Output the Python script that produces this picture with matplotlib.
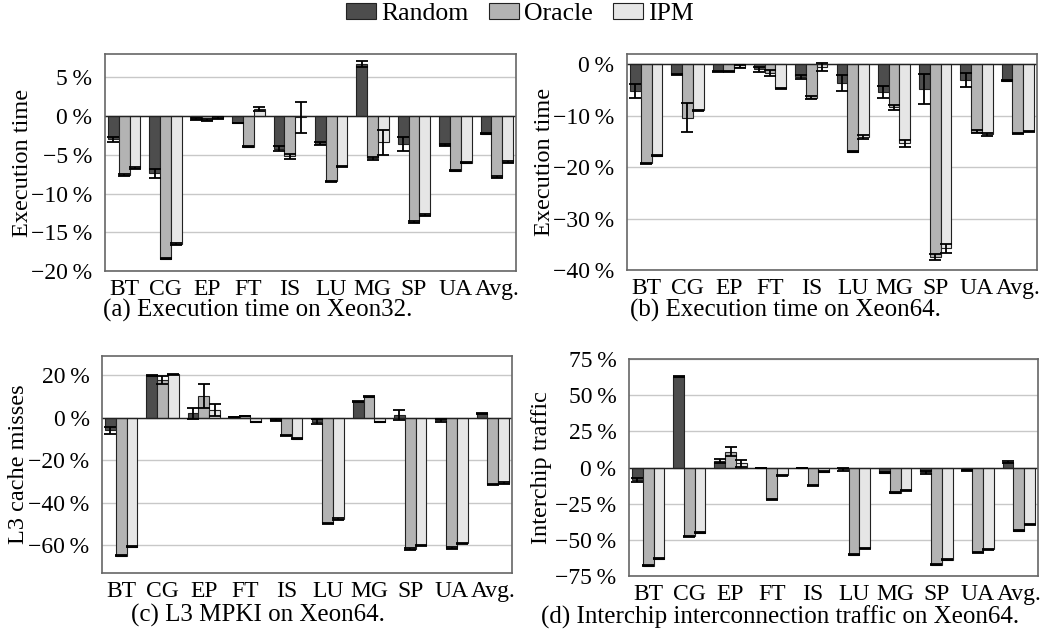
import numpy as np
import matplotlib
matplotlib.use("Agg")
import matplotlib.pyplot as plt
from matplotlib.patches import Patch

plt.rcParams['font.family'] = ['Liberation Serif', 'DejaVu Serif']
plt.rcParams['font.size'] = 17

benchmarks = ['BT', 'CG', 'EP', 'FT', 'IS', 'LU', 'MG', 'SP', 'UA', 'Avg.']
series = ['Random', 'Oracle', 'IPM']
colors = ['#4d4d4d', '#b3b3b3', '#e6e6e6']

# (a) execution time on Xeon32
a_random = [-3.0, -7.4, -0.4, -0.9, -4.2, -3.6, 6.7, -3.6, -3.7, -2.3]
a_oracle = [-7.6, -18.4, -0.5, -3.95, -5.2, -8.45, -5.45, -13.7, -7.05, -7.9]
a_ipm = [-6.7, -16.5, -0.3, 0.9, -0.15, -6.5, -3.4, -12.75, -6.0, -5.9]
a_random_err = [0.3, 0.6, 0.1, 0.05, 0.3, 0.2, 0.4, 0.9, 0.15, 0.05]
a_oracle_err = [0.1, 0.1, 0.15, 0.05, 0.3, 0.1, 0.2, 0.15, 0.1, 0.1]
a_ipm_err = [0.1, 0.1, 0.15, 0.3, 2.0, 0.1, 1.6, 0.15, 0.1, 0.1]

# (b) execution time on Xeon64
b_random = [-5.2, -1.9, -1.4, -1.0, -2.5, -3.6, -5.4, -4.8, -3.1, -3.2]
b_oracle = [-19.2, -10.4, -1.4, -1.7, -6.5, -17.0, -8.4, -37.4, -13.1, -13.4]
b_ipm = [-17.8, -8.9, -0.5, -4.7, -0.5, -14.2, -15.4, -35.8, -13.6, -13.0]
b_random_err = [1.3, 0.1, 0.1, 0.5, 0.4, 1.5, 1.2, 3.0, 1.4, 0.1]
b_oracle_err = [0.1, 2.8, 0.1, 0.5, 0.3, 0.1, 0.5, 0.6, 0.3, 0.1]
b_ipm_err = [0.1, 0.1, 0.3, 0.1, 0.8, 0.4, 0.7, 0.8, 0.3, 0.1]

# (c) L3 MPKI on Xeon64
c_random = [-6.0, 19.7, 2.0, 0.3, -1.0, -1.8, 7.6, 1.3, -1.2, 2.0]
c_oracle = [-64.9, 17.8, 10.2, 0.8, -8.2, -49.6, 9.9, -61.7, -61.3, -31.3]
c_ipm = [-60.6, 20.5, 3.6, -2.0, -9.8, -47.6, -2.0, -60.0, -59.0, -30.7]
c_random_err = [1.5, 0.2, 2.7, 0.2, 0.5, 1.3, 0.2, 2.5, 0.8, 0.4]
c_oracle_err = [0.3, 2.0, 5.5, 0.2, 0.3, 0.3, 0.2, 0.3, 0.3, 0.3]
c_ipm_err = [0.3, 0.2, 2.8, 0.2, 0.3, 0.3, 0.2, 0.3, 0.3, 0.3]

# (d) interchip interconnection traffic on Xeon64
d_random = [-8.8, 62.8, 4.4, -0.3, -0.3, -1.2, -3.7, -3.4, -1.8, 3.9]
d_oracle = [-67.9, -47.6, 10.9, -21.9, -12.2, -60.3, -17.3, -67.2, -58.7, -43.6]
d_ipm = [-63.0, -45.0, 2.8, -5.3, -3.0, -55.9, -15.7, -63.7, -56.6, -39.3]
d_random_err = [1.5, 0.3, 1.5, 0.2, 0.2, 1.2, 0.3, 1.0, 0.3, 0.5]
d_oracle_err = [0.4, 0.4, 3.0, 0.4, 0.4, 0.4, 0.4, 0.4, 0.4, 0.4]
d_ipm_err = [0.4, 0.4, 2.5, 0.4, 0.4, 0.4, 0.4, 0.4, 0.4, 0.4]

W, H = 1044, 637
fig = plt.figure(figsize=(W / 100, H / 100), dpi=100)


def pct(v):
    s = '%d\u2009%%' % abs(v)
    return ('\u2212' + s) if v < 0 else s


def panel(box, vals, errs, ylim, yticks, ylabel, ylabel_x, caption, cap_xy):
    left, top, right, bottom = box
    ax = fig.add_axes([left / W, 1 - bottom / H, (right - left) / W, (bottom - top) / H])
    x = np.arange(len(benchmarks))
    width = 0.26
    for i, (v, e) in enumerate(zip(vals, errs)):
        ax.bar(x + (i - 1) * width, v, width, color=colors[i], edgecolor='#222222',
               linewidth=0.8, zorder=2)
        ax.errorbar(x + (i - 1) * width, v, yerr=e, fmt='none', ecolor='black',
                    elinewidth=1.3, capsize=4, capthick=1.3, zorder=3)
    ax.axhline(0, color='#222222', linewidth=1.0, zorder=2.5)
    ax.set_xlim(-0.465, len(benchmarks) - 1 + 0.465)
    ax.set_ylim(*ylim)
    ax.set_yticks(yticks)
    ax.set_yticklabels([pct(t) for t in yticks])
    ax.set_xticks(x)
    ax.set_xticklabels(benchmarks)
    ax.tick_params(length=0)
    ax.tick_params(axis='y', pad=9)
    ax.tick_params(axis='x', pad=6)
    ax.yaxis.grid(True, color='#c8c8c8', linewidth=1.0, zorder=0)
    ax.set_axisbelow(True)
    for sp in ax.spines.values():
        sp.set_color('#666666')
        sp.set_linewidth(1.2)
    mid = (top + bottom) / 2
    fig.text(ylabel_x / W, 1 - mid / H, ylabel, rotation=90, ha='center', va='center',
             fontsize=17.5)
    fig.text(cap_xy[0] / W, 1 - cap_xy[1] / H, caption, ha='center', va='center',
             fontsize=18)
    return ax


panel((105, 54, 516, 271), [a_random, a_oracle, a_ipm], [a_random_err, a_oracle_err, a_ipm_err],
      (-20, 8), [-20, -15, -10, -5, 0, 5], 'Execution time', 23,
      '(a) Execution time on Xeon32.', (258, 310))
panel((627, 54, 1037, 270), [b_random, b_oracle, b_ipm], [b_random_err, b_oracle_err, b_ipm_err],
      (-40, 2), [-40, -30, -20, -10, 0], 'Execution time', 545,
      '(b) Execution time on Xeon64.', (785, 310))
panel((102, 356, 512, 573), [c_random, c_oracle, c_ipm], [c_random_err, c_oracle_err, c_ipm_err],
      (-73, 29), [-60, -40, -20, 0, 20], 'L3 cache misses', 19,
      '(c) L3 MPKI on Xeon64.', (258, 615))
panel((629, 359, 1038, 576), [d_random, d_oracle, d_ipm], [d_random_err, d_oracle_err, d_ipm_err],
      (-75, 75), [-75, -50, -25, 0, 25, 50, 75], 'Interchip traffic', 541,
      '(d) Interchip interconnection traffic on Xeon64.', (780, 617))

handles = [Patch(facecolor=c, edgecolor='#222222', linewidth=0.8) for c in colors]
fig.legend(handles, series, loc='center', bbox_to_anchor=(520 / W, 1 - 14 / H), ncol=3,
           frameon=False, fontsize=18.5, handlelength=1.17, handleheight=0.55,
           handletextpad=0.2, columnspacing=0.78, borderpad=0)

fig.savefig('out.png', dpi=100)
